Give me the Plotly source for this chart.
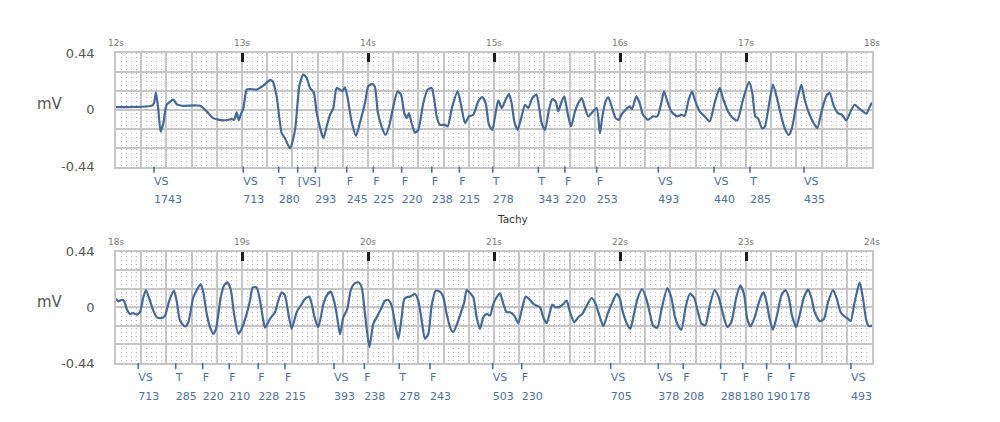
import numpy as np
import plotly.graph_objects as go

# ---------------- data: ECG strip 12s-18s (top) ----------------
top_t = [12.000, 12.283, 12.302, 12.317, 12.336, 12.354, 12.376, 12.402, 12.455, 12.481, 12.521, 12.667,
         12.720, 12.772, 12.852, 12.918, 12.937, 12.958, 12.974, 12.989, 13.011, 13.037, 13.063, 13.116,
         13.169, 13.222, 13.243, 13.275, 13.315, 13.341, 13.381, 13.421, 13.455, 13.487, 13.513, 13.540,
         13.571, 13.593, 13.646, 13.672, 13.698, 13.725, 13.751, 13.778, 13.796, 13.817, 13.836, 13.870,
         13.905, 13.942, 13.976,
         14.002, 14.034, 14.055, 14.077, 14.108, 14.140, 14.167, 14.201, 14.235, 14.262, 14.288, 14.307,
         14.325, 14.346, 14.373, 14.399, 14.439, 14.473, 14.505, 14.526, 14.545, 14.571, 14.611, 14.632,
         14.669, 14.711, 14.738, 14.770, 14.801, 14.836, 14.875, 14.907, 14.934, 14.960, 14.987, 15.008,
         15.034, 15.061, 15.092, 15.119, 15.140, 15.161, 15.188, 15.219, 15.246, 15.272, 15.304, 15.336,
         15.357, 15.378, 15.405, 15.436, 15.463, 15.489, 15.510, 15.537, 15.558, 15.584, 15.611, 15.643,
         15.669, 15.696, 15.722, 15.749, 15.775, 15.815, 15.841, 15.860, 15.886, 15.907, 15.934, 15.965,
         15.992,
         16.010, 16.050, 16.077, 16.095, 16.130, 16.156, 16.182, 16.222, 16.262, 16.296, 16.328, 16.349,
         16.376, 16.407, 16.455, 16.487, 16.513, 16.545, 16.571, 16.598, 16.632, 16.672, 16.712, 16.751,
         16.791, 16.817, 16.857, 16.897, 16.931, 16.976, 17.024, 17.050, 17.074, 17.095, 17.127, 17.148,
         17.180, 17.214, 17.249, 17.280, 17.307, 17.339, 17.365, 17.399, 17.439, 17.466, 17.505, 17.545,
         17.566, 17.603, 17.637, 17.664, 17.698, 17.730, 17.762, 17.796, 17.836, 17.862, 17.894, 17.928,
         17.955, 17.981, 18.000]
top_mv = [0.021, 0.031, 0.052, 0.135, 0.000, -0.169, -0.104, 0.039, 0.078, 0.044, 0.031, 0.031,
          -0.013, -0.065, -0.083, -0.073, -0.078, -0.021, -0.083, -0.039, 0.013, 0.156, 0.161, 0.156,
          0.187, 0.229, 0.221, 0.104, -0.182, -0.221, -0.299, -0.156, 0.182, 0.273, 0.247, 0.169,
          0.130, -0.026, -0.221, -0.130, -0.039, 0.013, 0.169, 0.156, 0.143, 0.174, 0.104, -0.091,
          -0.203, -0.078, 0.052,
          0.182, 0.200, 0.177, -0.013, -0.130, -0.195, -0.130, 0.026, 0.143, 0.117, -0.026, -0.065,
          -0.026, -0.104, -0.177, -0.156, 0.052, 0.156, 0.169, 0.078, -0.052, -0.117, -0.117, -0.130,
          0.026, 0.143, 0.039, -0.104, -0.052, -0.039, 0.065, 0.099, 0.052, -0.117, -0.156, -0.052,
          0.073, 0.013, 0.078, 0.122, 0.052, -0.091, -0.156, -0.052, 0.039, 0.013, 0.091, 0.117,
          0.026, -0.104, -0.156, 0.000, 0.083, 0.065, -0.013, 0.065, 0.104, -0.026, -0.130, -0.013,
          0.052, 0.091, 0.013, -0.052, -0.026, 0.013, -0.182, -0.052, 0.065, 0.096, 0.026, -0.065,
          -0.078,
          -0.039, 0.005, 0.026, 0.005, 0.104, 0.052, -0.039, -0.078, -0.052, -0.052, 0.052, 0.143,
          0.065, -0.013, -0.052, -0.039, -0.047, 0.078, 0.143, 0.065, -0.013, -0.052, -0.091, 0.052,
          0.169, 0.091, -0.013, -0.065, -0.083, 0.078, 0.216, 0.130, -0.052, -0.065, -0.143, -0.135,
          0.026, 0.195, 0.078, -0.052, -0.143, -0.195, -0.143, 0.039, 0.195, 0.078, -0.039, -0.117,
          -0.143, 0.000, 0.104, 0.130, 0.026, -0.026, -0.039, -0.083, 0.000, 0.039, 0.013, -0.013,
          -0.031, 0.021, 0.057]

# ---------------- data: ECG strip 18s-24s (bottom) ----------------
bot_t = [18.000, 18.019, 18.045, 18.063, 18.085, 18.111, 18.138, 18.164, 18.190, 18.217, 18.238, 18.265,
         18.291, 18.323, 18.362, 18.389, 18.423, 18.460, 18.481, 18.508, 18.548, 18.574, 18.614, 18.646,
         18.672, 18.693, 18.720, 18.746, 18.772, 18.794, 18.831, 18.857, 18.884, 18.910, 18.937, 18.971,
         18.997, 19.037, 19.063, 19.085, 19.116, 19.143, 19.169, 19.183, 19.222, 19.262, 19.288, 19.315,
         19.341, 19.368, 19.394, 19.434, 19.474, 19.500, 19.534, 19.553, 19.579, 19.606, 19.646, 19.672,
         19.704, 19.730, 19.751, 19.778, 19.804, 19.836, 19.862, 19.889, 19.923, 19.950, 19.976, 20.011,
         20.042, 20.069, 20.103, 20.135, 20.161, 20.188, 20.209, 20.241, 20.267, 20.288, 20.307, 20.333,
         20.373, 20.399, 20.426, 20.452, 20.479, 20.505, 20.537, 20.571, 20.598, 20.624, 20.651, 20.677,
         20.712, 20.743, 20.764, 20.783, 20.817, 20.836, 20.862, 20.889, 20.915, 20.942, 20.968, 20.995,
         21.021, 21.048, 21.074, 21.100, 21.127, 21.161, 21.193, 21.219, 21.251, 21.278, 21.312, 21.338,
         21.365, 21.391, 21.418, 21.444, 21.463, 21.489, 21.524, 21.550, 21.577, 21.603, 21.637, 21.669,
         21.701, 21.743, 21.775, 21.801, 21.828, 21.868, 21.902, 21.934, 21.974, 22.000,
         22.016, 22.050, 22.082, 22.111, 22.143, 22.175, 22.209, 22.235, 22.262, 22.296, 22.333, 22.376,
         22.407, 22.434, 22.460, 22.487, 22.521, 22.553, 22.587, 22.619, 22.645, 22.677, 22.712, 22.751,
         22.783, 22.817, 22.852, 22.884, 22.923, 22.955, 22.984, 23.010, 23.037, 23.069, 23.095, 23.122,
         23.140, 23.161, 23.188, 23.214, 23.249, 23.280, 23.312, 23.339, 23.365, 23.399, 23.434, 23.460,
         23.492, 23.518, 23.545, 23.585, 23.619, 23.651, 23.690, 23.717, 23.751, 23.783, 23.810, 23.831,
         23.862, 23.902, 23.929, 23.955, 23.974, 24.000]
bot_mv = [0.066, 0.047, 0.058, 0.052, -0.013, -0.052, -0.047, -0.058, -0.039, 0.079, 0.136, 0.066,
          -0.013, -0.079, -0.086, -0.066, 0.052, 0.131, 0.052, -0.105, -0.152, -0.118, 0.079, 0.144,
          0.183, 0.118, -0.052, -0.157, -0.210, -0.170, 0.079, 0.170, 0.197, 0.144, -0.052, -0.210,
          -0.170, -0.052, 0.052, 0.157, 0.157, 0.052, -0.105, -0.162, -0.092, -0.039, 0.052, 0.118,
          0.092, -0.052, -0.170, -0.039, 0.026, 0.066, 0.084, 0.026, -0.092, -0.157, 0.026, 0.092,
          0.123, 0.052, -0.052, -0.215, -0.079, -0.013, 0.131, 0.183, 0.197, 0.157, -0.052, -0.314,
          -0.131, -0.079, -0.013, 0.052, 0.058, 0.013, -0.092, -0.249, -0.079, 0.066, 0.079, 0.084,
          0.105, 0.052, -0.105, -0.249, -0.210, 0.013, 0.131, 0.123, 0.079, -0.052, -0.157, -0.197,
          -0.118, -0.026, 0.039, 0.136, 0.105, 0.079, -0.079, -0.170, -0.079, -0.052, -0.066, 0.026,
          0.079, 0.110, 0.026, -0.039, -0.039, -0.066, -0.126, -0.026, 0.084, 0.066, 0.026, 0.013,
          0.000, -0.079, -0.126, -0.039, 0.021, 0.000, 0.005, 0.026, 0.052, -0.039, -0.118, -0.079,
          -0.052, 0.026, 0.073, 0.039, -0.039, -0.149, -0.052, 0.026, 0.105, 0.066,
          -0.013, -0.118, -0.170, -0.052, 0.079, 0.144, 0.066, -0.039, -0.144, -0.162, 0.000, 0.152,
          0.079, -0.066, -0.144, -0.178, 0.000, 0.105, 0.079, -0.039, -0.126, -0.144, 0.013, 0.136,
          0.079, -0.052, -0.157, -0.118, 0.079, 0.170, 0.105, -0.092, -0.152, -0.079, 0.013, 0.092,
          0.118, 0.052, -0.092, -0.178, -0.052, 0.092, 0.136, 0.079, -0.066, -0.157, -0.026, 0.079,
          0.139, 0.079, -0.039, -0.110, -0.092, 0.039, 0.136, 0.079, -0.039, -0.073, -0.092, -0.110,
          0.039, 0.197, 0.066, -0.105, -0.149, -0.144]

# ---------------- marker channel ----------------
top_mark_t = [12.302, 13.010, 13.291, 13.442, 13.582, 13.831, 14.042, 14.267, 14.506, 14.725,
              14.990, 15.352, 15.563, 15.815, 16.304, 16.746, 17.032, 17.460]
top_mark_label = ["VS", "VS", "T", "[VS]", "", "F", "F", "F", "F", "F",
                  "T", "T", "F", "F", "VS", "VS", "T", "VS"]
top_mark_ms = ["1743", "713", "280", "", "293", "245", "225", "220", "238", "215",
               "278", "343", "220", "253", "493", "440", "285", "435"]

bot_mark_t = [18.177, 18.474, 18.688, 18.899, 19.129, 19.341, 19.730, 19.971, 20.248, 20.492,
              20.990, 21.220, 21.926, 22.304, 22.502, 22.799, 22.974, 23.164, 23.344, 23.833]
bot_mark_label = ["VS", "T", "F", "F", "F", "F", "VS", "F", "T", "F",
                  "VS", "F", "VS", "VS", "F", "T", "F", "F", "F", "VS"]
bot_mark_ms = ["713", "285", "220", "210", "228", "215", "393", "238", "278", "243",
               "503", "230", "705", "378", "208", "288", "180", "190", "178", "493"]

y_tick_vals = [-0.44, 0, 0.44]
y_tick_text = ["-0.44", "0", "0.44"]
episode_label = "Tachy"

# ---------------- styling ----------------
W, H = 1000, 422
OFFSET = 8  # page body margin
FONT = "DejaVu Sans"
LINE_COLOR = "#43699c"
MARK_COLOR = "#4a70a3"
GRID_COLOR = "#c6c6c6"
DOT_COLOR = "#b9b9b9"


def px_x(p):
    return (p - OFFSET) / W


def px_y(p):
    return 1 - (p - OFFSET) / H


PLOT_L, PLOT_R = 116, 872
panels = [
    dict(t0=12, top=53, bottom=166.5, strip=206.5, t=top_t, v=top_mv,
         mt=top_mark_t, ml=top_mark_label, mm=top_mark_ms),
    dict(t0=18, top=251.5, bottom=363, strip=403, t=bot_t, v=bot_mv,
         mt=bot_mark_t, ml=bot_mark_label, mm=bot_mark_ms),
]

fig = go.Figure()
layout = dict(
    width=W, height=H, margin=dict(l=0, r=0, t=0, b=0, pad=0, autoexpand=False),
    paper_bgcolor="white", plot_bgcolor="white", showlegend=False,
    font=dict(family=FONT), annotations=[],
)

ymin, ymax = -0.44, 0.44
major_y = list(np.linspace(ymin, ymax, 7))

for i, p in enumerate(panels):
    gx, lx, sx = 3 * i + 1, 3 * i + 2, 3 * i + 3
    gy, sy = 2 * i + 1, 2 * i + 2

    def nm(prefix, n):
        return prefix if n == 1 else f"{prefix}{n}"

    t0, t1 = p["t0"], p["t0"] + 6
    major_x = list(np.round(np.arange(t0, t1 + 1e-9, 0.2), 3))
    minor_x = list(np.round(np.arange(t0, t1 + 1e-9, 0.04), 3))
    sec_x = list(range(t0, t1 + 1))

    layout["xaxis" if gx == 1 else f"xaxis{gx}"] = dict(
        domain=[px_x(PLOT_L), px_x(PLOT_R)], range=[t0, t1], anchor=nm("y", gy),
        tickmode="array", tickvals=major_x, showticklabels=False, ticks="",
        showgrid=True, gridcolor=GRID_COLOR, gridwidth=1.5, zeroline=False,
        showline=True, mirror=True, linecolor=GRID_COLOR, linewidth=1.5,
        minor=dict(tickmode="array", tickvals=minor_x, showgrid=True,
                   gridcolor=DOT_COLOR, gridwidth=1, griddash="1px,3px", ticks=""),
        automargin=False, fixedrange=True,
    )
    layout[f"xaxis{lx}"] = dict(
        overlaying=nm("x", gx), side="top", anchor=nm("y", gy), range=[t0, t1],
        tickmode="array", tickvals=sec_x, ticktext=[f"{s}s" for s in sec_x],
        ticks="inside", ticklen=9, tickwidth=2.5, tickcolor="#1e1e1e",
        tickfont=dict(size=9, color="#7a7a7a"), ticklabelstandoff=4,
        showgrid=False, zeroline=False, showline=False, automargin=False, fixedrange=True,
    )
    layout[f"xaxis{sx}"] = dict(domain=[px_x(PLOT_L), px_x(PLOT_R)], range=[t0, t1],
                                anchor=nm("y", sy), visible=False, automargin=False, fixedrange=True)
    layout["yaxis" if gy == 1 else f"yaxis{gy}"] = dict(
        domain=[px_y(p["bottom"]), px_y(p["top"])], range=[ymin, ymax], anchor=nm("x", gx),
        tickmode="array", tickvals=major_y,
        ticktext=[y_tick_text[y_tick_vals.index(round(v, 2))] if round(v, 2) in y_tick_vals else ""
                  for v in major_y],
        ticks="", ticklabelstandoff=17, tickfont=dict(size=13, color="#555"),
        showgrid=True, gridcolor=GRID_COLOR, gridwidth=1.5, zeroline=False,
        showline=True, mirror=True, linecolor=GRID_COLOR, linewidth=1.5,
        automargin=False, fixedrange=True,
    )
    layout[f"yaxis{sy}"] = dict(domain=[px_y(p["strip"]), px_y(p["bottom"])], range=[40, 0],
                                anchor=nm("x", sx), visible=False, automargin=False, fixedrange=True)

    xa, ya = nm("x", gx), nm("y", gy)
    fig.add_trace(go.Scatter(x=p["t"], y=p["v"], xaxis=xa, yaxis=ya, mode="lines",
                             line=dict(color=LINE_COLOR, width=2.2, shape="spline", smoothing=0.6),
                             hoverinfo="skip"))
    fig.add_trace(go.Scatter(x=[t0, t1], y=[0, 0], xaxis=f"x{lx}", yaxis=ya, mode="lines",
                             line=dict(width=0, color="rgba(0,0,0,0)"), hoverinfo="skip"))
    sxa, sya = f"x{sx}", f"y{sy}"
    fig.add_trace(go.Scatter(x=p["mt"], y=[2] * len(p["mt"]), xaxis=sxa, yaxis=sya, mode="markers",
                             marker=dict(symbol="line-ns", size=6,
                                         line=dict(width=1.6, color=MARK_COLOR)),
                             hoverinfo="skip"))
    fig.add_trace(go.Scatter(x=p["mt"], y=[15.5] * len(p["mt"]), xaxis=sxa, yaxis=sya, mode="text",
                             text=p["ml"], textposition="middle right",
                             textfont=dict(size=11, color=MARK_COLOR, family=FONT),
                             hoverinfo="skip"))
    fig.add_trace(go.Scatter(x=p["mt"], y=[34] * len(p["mt"]), xaxis=sxa, yaxis=sya, mode="text",
                             text=p["mm"], textposition="middle right",
                             textfont=dict(size=11, color=MARK_COLOR, family=FONT),
                             hoverinfo="skip"))
    layout["annotations"].append(dict(
        text="mV", xref="paper", yref=f"{ya} domain", x=px_x(50), y=0.55,
        xanchor="center", yanchor="middle",
        showarrow=False, font=dict(size=15, color="#555", family=FONT)))

layout["annotations"].append(dict(
    text=episode_label, xref="x", yref="paper", x=15.15, y=px_y(219),
    xanchor="center", yanchor="middle",
    showarrow=False, font=dict(size=10.5, color="#333", family=FONT)))

fig.update_layout(**layout)
fig.write_html("out.html")
